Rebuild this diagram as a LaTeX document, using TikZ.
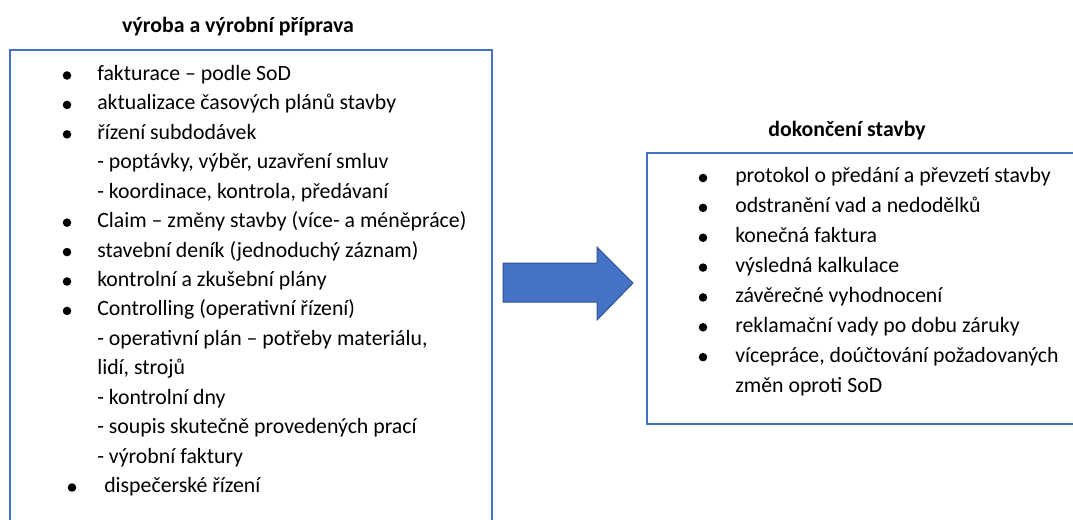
\documentclass[tikz,border=0pt]{standalone}
\usepackage{fontspec}
\setmainfont{Carlito}
\definecolor{boxblue}{RGB}{68,114,196}
\definecolor{arrowedge}{RGB}{47,82,143}
\tikzset{
  itemtext/.style={anchor=base west, inner sep=0pt, font=\fontsize{16.35}{20}\selectfont},
  titletext/.style={anchor=base, inner sep=0pt, font=\fontsize{16.35}{20}\selectfont\bfseries},
  bulletdot/.style={circle, fill=black, inner sep=0pt, minimum size=6.4pt},
  framebox/.style={draw=boxblue, line width=1.3pt},
}
\begin{document}
\begin{tikzpicture}[x=0.75pt,y=0.75pt,yscale=-1,xscale=1]
\path[use as bounding box] (0,0) rectangle (1073,520);
\clip (0,0) rectangle (1073,520);

%Shape: Rectangle [left box]
\draw [framebox] (10,50) -- (492,50) -- (492,560) -- (10,560) -- cycle ;
%Shape: Rectangle [right box]
\draw [framebox] (647,153) -- (1090,153) -- (1090,424) -- (647,424) -- cycle ;

%Shape: Right Arrow
\coordinate (tail) at (503,283);
\coordinate (tip) at (633,283);
\draw [draw=arrowedge, fill=boxblue, line width=0.75] (tail) ++(0,-20) -- (597,263) -- (597,247) -- (tip) -- (597,320) -- (597,302) -- (503,302) -- cycle ;

% Text Node
\node [titletext] (prodtitle) at (238,33) {výroba a výrobní příprava};
\node [titletext] (fintitle) at (847,137) {dokončení stavby};

% left list: 1 = bullet, 0 = continuation, 2 = shifted bullet
\foreach \b/\t [count=\i] in {
  1/{fakturace – podle SoD},
  1/{aktualizace časových plánů stavby},
  1/{řízení subdodávek},
  0/{- poptávky, výběr, uzavření smluv},
  0/{- koordinace, kontrola, předávaní},
  1/{Claim – změny stavby (více- a méněpráce)},
  1/{stavební deník (jednoduchý záznam)},
  1/{kontrolní a zkušební plány},
  1/{Controlling (operativní řízení)},
  0/{- operativní plán – potřeby materiálu,},
  0/{lidí, strojů},
  0/{- kontrolní dny},
  0/{- soupis skutečně provedených prací},
  0/{- výrobní faktury},
  2/{dispečerské řízení}}{
  \pgfmathsetmacro\yc{75.5+29.43*(\i-1)}
  \pgfmathsetmacro\bx{67+5*(\b==2)}
  \pgfmathsetmacro\tx{97+7*(\b==2)}
  \ifnum\b>0 \node [bulletdot] (pb\i) at (\bx,\yc) {}; \fi
  \node [itemtext] (pl\i) at (\tx,\yc+5) {\t};
}

% right list
\foreach \b/\t [count=\i] in {
  1/{protokol o předání a převzetí stavby},
  1/{odstranění vad a nedodělků},
  1/{konečná faktura},
  1/{výsledná kalkulace},
  1/{závěrečné vyhodnocení},
  1/{reklamační vady po dobu záruky},
  1/{vícepráce, doúčtování požadovaných},
  0/{změn oproti SoD}}{
  \pgfmathsetmacro\yc{178+29.86*(\i-1)}
  \ifnum\b>0 \node [bulletdot] (db\i) at (703,\yc) {}; \fi
  \node [itemtext] (dl\i) at (735,\yc+5) {\t};
}

\end{tikzpicture}
\end{document}
